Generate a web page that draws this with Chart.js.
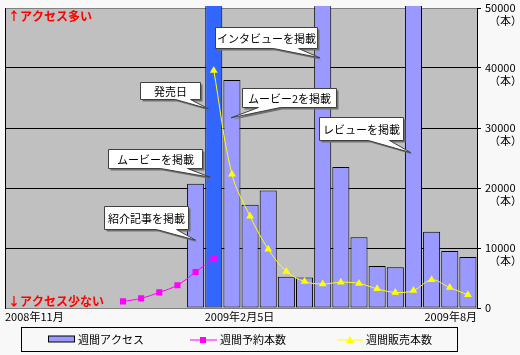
<!DOCTYPE html>
<html><head><meta charset="utf-8">
<script src="https://cdn.jsdelivr.net/npm/chart.js@4/dist/chart.umd.min.js"></script>
<style>html,body{margin:0;padding:0;background:#F8F8F8;}#wrap{width:520px;height:355px;position:relative;}</style>
</head><body><div id="wrap"><canvas id="c"></canvas></div>
<script>
// ---- data ----
const categories = ['W01','W02','W03','W04','W05','W06','W07','W08','W09','W10','W11','W12','W13',
                    'W14','W15','W16','W17','W18','W19','W20','W21','W22','W23','W24','W25','W26'];
const weeklyAccess = [100,100,null,100,null,null,100,100,100,100,20700,60000,38000,17200,19600,5200,5100,60000,23500,11800,7000,6800,60000,12700,9500,8500];
const weeklyPreorders = [null,null,null,null,null,null,1100,1600,2600,3800,6000,8300,null,null,null,null,null,null,null,null,null,null,null,null,null,null];
const weeklySales = [null,null,null,null,null,null,null,null,null,null,null,39600,22300,15300,9800,6100,4400,4000,4300,4100,3200,2600,2900,4700,3400,2200];
const seriesNames = ['週間アクセス','週間予約本数','週間販売本数'];
const xTickLabels = ['2008年11月','2009年2月5日','2009年8月'];
const xTickIndex = [0, 11, 25];
const yTickValues = [0,10000,20000,30000,40000,50000];
const yUnit = '（本）';
const topNote = '↑アクセス多い';
const bottomNote = '↓アクセス少ない';
const notes = [
  {text:'インタビューを掲載', cat:17, val:41700},
  {text:'発売日', cat:11, val:33200},
  {text:'ムービー2を掲載', cat:12, val:31700},
  {text:'レビューを掲載', cat:22, val:25900},
  {text:'ムービーを掲載', cat:11, val:21800},
  {text:'紹介記事を掲載', cat:10, val:11300}
];
// ---- styles / layout ----
const highlightIndex = 11;
const FONT = '"Noto Sans CJK JP", "Noto Sans", sans-serif';
// callout geometry relative to tip: dxTip (category offset), box offsets (px)
const noteGeom = [
  {dc:-0.15, bx:-105, by:-31, w:102, h:21, b1:58, b2:83},
  {dc:-0.30, bx:-68, by:-27, w:60, h:17, b1:35, b2:50},
  {dc:-0.05, bx:11, by:-30, w:94, h:19, b1:16, b2:38},
  {dc:-0.15, bx:-92, by:-36, w:84, h:23, b1:49, b2:70},
  {dc:-0.20, bx:-102, by:-28, w:94, h:19, b1:52, b2:79},
  {dc:0.00, bx:-92, by:-34, w:84, h:23, b1:52, b2:72}
];

function callout(ctx, box, b1, b2, tip, text){
  const path = (d)=>{
    ctx.beginPath();
    ctx.moveTo(box.x+d, box.y+d);
    ctx.lineTo(box.x+box.w+d, box.y+d);
    ctx.lineTo(box.x+box.w+d, box.y+box.h+d);
    ctx.lineTo(b2+d, box.y+box.h+d);
    ctx.lineTo(tip.x+d, tip.y+d);
    ctx.lineTo(b1+d, box.y+box.h+d);
    ctx.lineTo(box.x+d, box.y+box.h+d);
    ctx.closePath();
  };
  ctx.save();
  path(2); ctx.fillStyle='#707070'; ctx.fill();
  path(0); ctx.fillStyle='#FFFFFF'; ctx.fill();
  ctx.strokeStyle='#404040'; ctx.lineWidth=1; ctx.stroke();
  ctx.fillStyle='#000'; ctx.font='11px '+FONT; ctx.textAlign='center'; ctx.textBaseline='middle';
  ctx.fillText(text, box.x+box.w/2, box.y+box.h/2+0.5);
  ctx.restore();
}

const bgPlugin = {
  id:'bg',
  beforeDraw(chart){
    const {ctx, chartArea:a} = chart;
    ctx.save();
    ctx.fillStyle='#F8F8F8'; ctx.fillRect(0,0,chart.width,chart.height);
    ctx.fillStyle='#C0C0C0'; ctx.fillRect(a.left,a.top,a.right-a.left,a.bottom-a.top);
    ctx.restore();
  }
};

const overlayPlugin = {
  id:'overlay',
  afterDraw(chart){
    const {ctx, chartArea:a, scales} = chart;
    const xs = scales.x, ys = scales.y;
    const catW = (a.right-a.left)/categories.length;
    ctx.save();
    // left border
    ctx.strokeStyle='#000'; ctx.lineWidth=1;
    ctx.beginPath(); ctx.moveTo(a.left+0.5, a.top); ctx.lineTo(a.left+0.5, a.bottom+1); ctx.stroke();
    // notes on access
    ctx.fillStyle='#FF0000'; ctx.font='bold 12px '+FONT; ctx.textAlign='left'; ctx.textBaseline='middle';
    ctx.fillText(topNote, a.left+3, a.top+8);
    ctx.fillText(bottomNote, a.left+3, a.bottom-7);
    // x labels
    ctx.fillStyle='#000'; ctx.font='11px '+FONT;
    xTickLabels.forEach((t,i)=>{
      const idx = xTickIndex[i];
      const cx = xs.getPixelForValue(idx);
      if (i === xTickLabels.length-1) { ctx.textAlign='right'; ctx.fillText(t, cx+catW/2, a.bottom+9); }
      else { ctx.textAlign='left'; ctx.fillText(t, cx-catW/2, a.bottom+9); }
    });
    // y labels
    ctx.textAlign='left';
    yTickValues.forEach(v=>{
      const y = ys.getPixelForValue(v);
      ctx.fillText(String(v), a.right+8, y);
      if (v !== 0) ctx.fillText(yUnit, a.right+12, y+13);
    });
    // callouts
    notes.forEach((n,i)=>{
      const g = noteGeom[i];
      const tip = {x: xs.getPixelForValue(n.cat)+g.dc*catW, y: ys.getPixelForValue(n.val)};
      const box = {x: Math.round(tip.x+g.bx)+0.5, y: Math.round(tip.y+g.by)+0.5, w:g.w, h:g.h};
      callout(ctx, box, box.x+g.b1, box.x+g.b2, tip, n.text);
    });
    // legend
    const L = {x:21.5, y:327.5, w:436, h:24};
    ctx.strokeStyle='#000'; ctx.lineWidth=1; ctx.strokeRect(L.x,L.y,L.w,L.h);
    const cy = L.y + L.h/2;
    const ds = chart.data.datasets;
    ctx.font='11px '+FONT; ctx.textBaseline='middle'; ctx.textAlign='left';
    // bar swatch
    ctx.fillStyle='#9999FF'; ctx.fillRect(48.5, cy-3.5, 26, 6); ctx.strokeRect(48.5, cy-3.5, 26, 6);
    ctx.fillStyle='#000'; ctx.fillText(ds[0].label, 78, cy);
    // pink
    ctx.strokeStyle=ds[1].borderColor; ctx.beginPath(); ctx.moveTo(190, cy+0.5); ctx.lineTo(217, cy+0.5); ctx.stroke();
    ctx.fillStyle=ds[1].borderColor; ctx.fillRect(200, cy-2.5, 6, 6);
    ctx.fillStyle='#000'; ctx.fillText(ds[1].label, 220, cy);
    // yellow
    ctx.strokeStyle=ds[2].borderColor; ctx.beginPath(); ctx.moveTo(337, cy+0.5); ctx.lineTo(363, cy+0.5); ctx.stroke();
    ctx.fillStyle=ds[2].borderColor; ctx.beginPath(); ctx.moveTo(350, cy-3.5); ctx.lineTo(354, cy+3.5); ctx.lineTo(346, cy+3.5); ctx.closePath(); ctx.fill();
    ctx.fillStyle='#000'; ctx.fillText(ds[2].label, 366, cy);
    ctx.restore();
  }
};

new Chart(document.getElementById('c'), {
  data: {
    labels: categories,
    datasets: [
      {type:'bar', label:seriesNames[0], data:weeklyAccess, order:2,
       backgroundColor:(c)=>c.dataIndex===highlightIndex?'#3366FF':'#9999FF',
       borderColor:'#000', borderWidth:1, borderSkipped:false,
       barPercentage:1, categoryPercentage:0.94, clip:{left:0,top:2,right:0,bottom:0}},
      {type:'line', label:seriesNames[1], data:weeklyPreorders, order:0,
       borderColor:'#FF00FF', backgroundColor:'#FF00FF', borderWidth:1, tension:0.35,
       pointStyle:'rect', pointRadius:4.3, pointBorderWidth:0, spanGaps:false},
      {type:'line', label:seriesNames[2], data:weeklySales, order:1,
       borderColor:'#FFFF00', backgroundColor:'#FFFF00', borderWidth:1, tension:0.35,
       pointStyle:'triangle', pointRadius:4.5, pointBorderWidth:0}
    ]
  },
  options: {
    responsive:true, maintainAspectRatio:false, animation:false,
    layout:{padding:{left:5, right:39, top:8, bottom:47}},
    plugins:{legend:{display:false}, tooltip:{enabled:false}},
    scales:{
      x:{display:false, offset:true},
      y:{position:'right', min:0, max:50000, display:true,
         ticks:{display:false, stepSize:10000},
         border:{display:true, color:'#000', width:1},
         grid:{color:(c)=>(c.tick && (c.tick.value===50000||c.tick.value===0))?'#808080':'#000',
               lineWidth:1, drawTicks:true, tickLength:4, tickColor:'#000'}}
    }
  },
  plugins:[bgPlugin, overlayPlugin]
});
</script></body></html>
